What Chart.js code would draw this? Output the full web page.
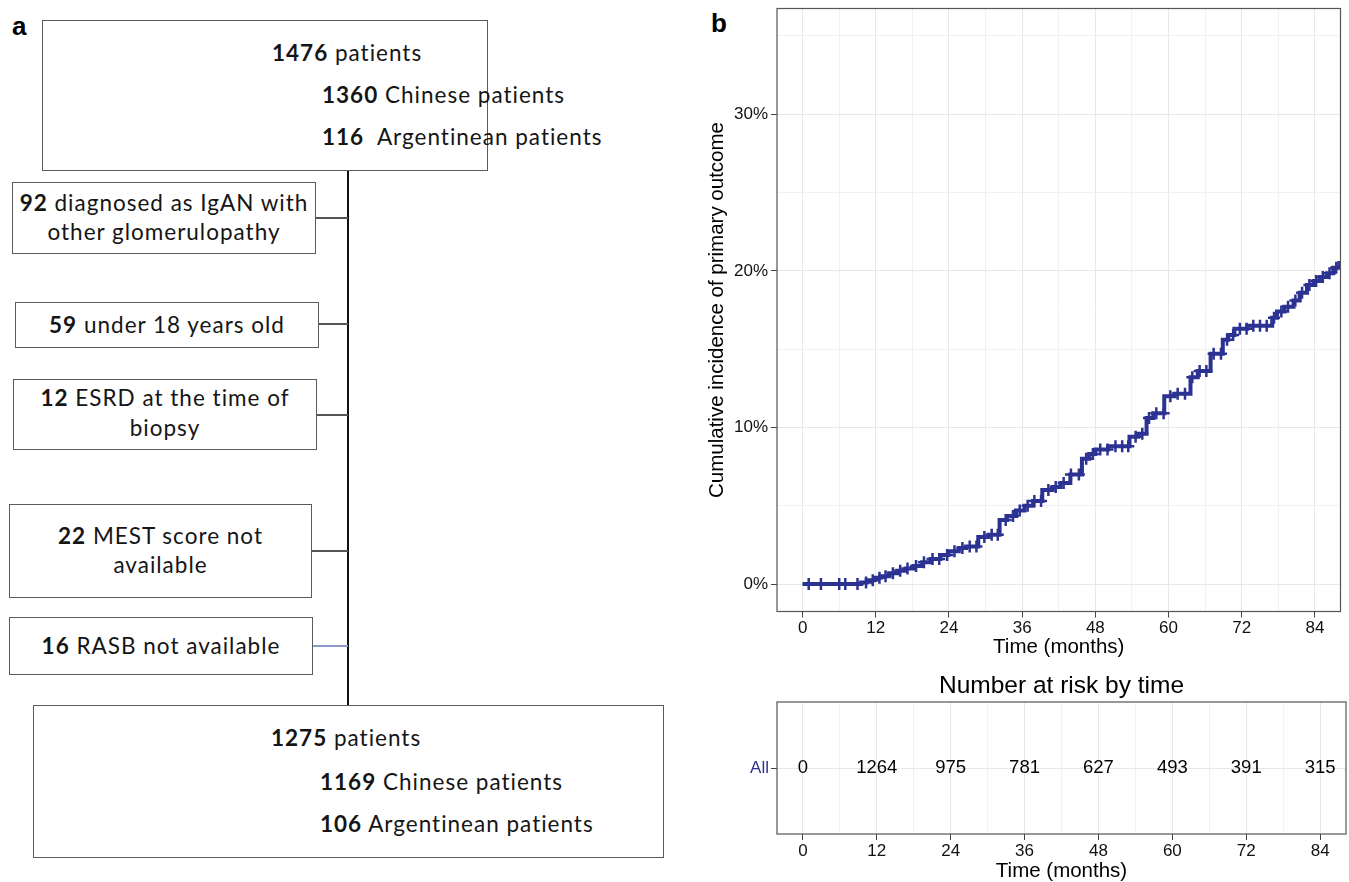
<!DOCTYPE html>
<html>
<head>
<meta charset="utf-8">
<title>Patient selection and cumulative incidence of the primary outcome</title>
<script src="https://cdn.jsdelivr.net/npm/chart.js@4.4.1/dist/chart.umd.min.js"></script>
<style>
  html, body { margin: 0; padding: 0; background: #fff; }
  body { position: relative; width: 1349px; height: 882px; overflow: hidden; }
  .panel-tag { position: absolute; font: bold 26px "Liberation Sans", Arial, sans-serif; color: #000; line-height: 1; }
  .fbox { position: absolute; box-sizing: border-box; border: 1.5px solid #5b5b5b; background: #fff; }
  .fline { position: absolute; }
  .ftext { position: absolute; font-family: Lato, "Open Sans", sans-serif; font-size: 22.5px; letter-spacing: 1px;
           color: #151515; white-space: pre; line-height: 1; transform: translateY(-50%); }
  .ftext b { font-weight: 700; }
  canvas { position: absolute; }
</style>
</head>
<body>
<div id="flow"></div>
<div class="panel-tag" style="left:12px;top:13px">a</div>
<div class="panel-tag" style="left:711px;top:10px">b</div>
<canvas id="km" width="649" height="660" style="left:700px;top:0px;width:649px;height:660px"></canvas>
<canvas id="risk" width="649" height="212" style="left:700px;top:672px;width:649px;height:212px"></canvas>

<script>
// ---------- cohort flow ----------
const screenedTotal = 1476;
const screenedByCountry = [1360, 116];
const countryLabels = ['Chinese patients', 'Argentinean patients'];
const exclusionCounts = [92, 59, 12, 22, 16];
const exclusionReasons = [
  ['diagnosed as IgAN with', 'other glomerulopathy'],
  ['under 18 years old'],
  ['ESRD at the time of', 'biopsy'],
  ['MEST score not', 'available'],
  ['RASB not available']
];
const includedTotal = 1275;
const includedByCountry = [1169, 106];

// ---------- cumulative incidence (%), step function ----------
const kmTimes = [0, 9.6, 10.5, 11.8, 12.8, 14.2, 15.5, 16.9, 18.2, 19.6, 21.0, 22.6, 23.9, 25.6, 26.8,
  28.8, 30.5, 32.3, 33.5, 35.0, 36.4, 37.8, 39.3, 41.0, 42.3, 43.9, 45.8, 47.0, 48.0, 50.1, 53.6,
  55.0, 56.4, 57.5, 59.3, 61.0, 63.6, 64.8, 66.9, 68.9, 69.8, 70.8, 72.9, 77.0, 77.8, 79.0, 80.5,
  81.5, 82.7, 83.8, 84.8, 86.0, 87.0, 88.0, 89.0];
const kmIncidence = [0, 0.1, 0.25, 0.4, 0.5, 0.7, 0.85, 1.0, 1.15, 1.4, 1.6, 1.85, 2.1, 2.3, 2.4,
  3.0, 3.15, 4.1, 4.35, 4.7, 5.0, 5.3, 6.0, 6.2, 6.45, 7.0, 8.0, 8.3, 8.6, 8.8, 9.4,
  9.6, 10.6, 10.9, 12.0, 12.15, 13.2, 13.6, 14.7, 15.6, 15.9, 16.3, 16.5, 17.0, 17.4, 17.7, 18.1,
  18.6, 19.1, 19.35, 19.6, 19.85, 20.2, 20.5, 20.5];
const censorTimes = [1, 3, 6, 7, 9, 10.4, 11.5, 12.6, 13.6, 14.8, 16.0, 17.2, 18.6, 19.9, 21.3, 22.4,
  23.7, 24.9, 26.2, 27.4, 28.5, 29.8, 31.0, 32.0, 33.3, 34.5, 35.6, 36.9, 38.0, 39.1, 40.3, 41.5,
  42.8, 44.0, 45.3, 46.5, 47.6, 48.8, 50.0, 51.3, 52.4, 53.4, 54.6, 55.7, 56.8, 58.0, 59.2, 60.3,
  61.5, 62.7, 63.9, 65.1, 66.2, 67.4, 68.6, 69.6, 70.6, 71.7, 72.8, 73.9, 75.0, 76.1, 77.3, 78.5,
  79.6, 80.8, 81.9, 83.1, 84.2, 85.3, 86.4, 87.5];

const timeTicks = [0, 12, 24, 36, 48, 60, 72, 84];
const incidenceTicks = [0, 10, 20, 30];

// ---------- number at risk ----------
const riskTimes = [0, 12, 24, 36, 48, 60, 72, 84];
const riskCounts = [0, 1264, 975, 781, 627, 493, 391, 315];
const riskGroups = ['All'];

// ======================================================================
const flow = document.getElementById('flow');
function el(cls, css, html) {
  const d = document.createElement('div');
  d.className = cls;
  Object.assign(d.style, css);
  if (html !== undefined) d.innerHTML = html;
  flow.appendChild(d);
  return d;
}
function box(r) {
  el('fbox', { left: r[0] + 'px', top: r[1] + 'px', width: (r[2] - r[0]) + 'px', height: (r[3] - r[1]) + 'px' });
}
function hline(x1, x2, y, color, w) {
  el('fline', { left: x1 + 'px', top: (y - w / 2) + 'px', width: (x2 - x1) + 'px', height: w + 'px', background: color });
}
function vline(x, y1, y2, color, w) {
  el('fline', { left: (x - w / 2) + 'px', top: y1 + 'px', width: w + 'px', height: (y2 - y1) + 'px', background: color });
}
function textAt(html, x, y) { el('ftext', { left: x + 'px', top: y + 'px' }, html); }
function textCentered(html, r, y) {
  el('ftext', { left: r[0] + 'px', width: (r[2] - r[0]) + 'px', top: y + 'px', textAlign: 'center' }, html);
}

// layout of the flow diagram
const spineX = 348;
const topRect = [42, 20, 488, 171];
const bottomRect = [33, 705, 664, 858];
const exclRects = [[12, 182, 316, 254], [15, 302, 319, 348], [13, 379, 317, 450], [9, 504, 312, 598], [9, 617, 313, 675]];
const exclLinkY = [218, 324, 415, 551, 646];
const exclLineY = [[203, 232], [325], [398, 428], [536, 565], [646]];
const linkColors = ['#555', '#555', '#555', '#555', '#8c9acb'];

vline(spineX, topRect[3], bottomRect[1], '#111', 2);
box(topRect);
box(bottomRect);
textAt('<b>' + screenedTotal + '</b> patients', 272, 53);
textAt('<b>' + screenedByCountry[0] + '</b> ' + countryLabels[0], 322, 95);
textAt('<b>' + screenedByCountry[1] + '</b>  ' + countryLabels[1], 322, 137);
textAt('<b>' + includedTotal + '</b> patients', 271, 738);
textAt('<b>' + includedByCountry[0] + '</b> ' + countryLabels[0], 320, 782);
textAt('<b>' + includedByCountry[1] + '</b> ' + countryLabels[1], 320, 824);

exclusionCounts.forEach((n, i) => {
  const r = exclRects[i];
  hline(r[2], spineX, exclLinkY[i], linkColors[i], 1.5);
  box(r);
  exclusionReasons[i].forEach((line, j) => {
    const html = j === 0 ? '<b>' + n + '</b> ' + line : line;
    textCentered(html, r, exclLineY[i][j]);
  });
});

// ======================================================================
const KM_BLUE = '#2b3292';
const SANS = '"Liberation Sans", Arial, sans-serif';
const minorTimes = timeTicks.slice(0, -1).map((t, i) => (t + timeTicks[i + 1]) / 2);
const timeGrid = timeTicks.concat(minorTimes).sort((a, b) => a - b);
const minorInc = incidenceTicks.map(v => v + 5);
const incGrid = incidenceTicks.concat(minorInc).sort((a, b) => a - b);

function incidenceAt(t) {
  let v = 0;
  for (let i = 0; i < kmTimes.length; i++) if (kmTimes[i] <= t) v = kmIncidence[i];
  return v;
}

const panelBorder = {
  id: 'panelBorder',
  afterDraw(chart) {
    const a = chart.chartArea, c = chart.ctx;
    c.save();
    c.strokeStyle = '#555';
    c.lineWidth = 1.2;
    c.strokeRect(a.left, a.top, a.right - a.left, a.bottom - a.top);
    c.restore();
  }
};

function timeAxis(height) {
  return {
    type: 'linear', min: -4.2, max: 88.2,
    afterBuildTicks: ax => { ax.ticks = timeGrid.map(v => ({ value: v })); },
    afterFit: ax => { ax.height = height; ax.paddingLeft = 0; ax.paddingRight = 0; },
    border: { display: false },
    grid: {
      color: ctx => (ctx.tick && timeTicks.includes(ctx.tick.value)) ? '#e8e8e8' : '#f1f1f1',
      lineWidth: 1,
      tickLength: 6,
      tickColor: ctx => (ctx.tick && timeTicks.includes(ctx.tick.value)) ? '#444' : 'rgba(0,0,0,0)'
    },
    ticks: {
      autoSkip: false, maxRotation: 0, padding: 1, color: '#111',
      font: { family: SANS, size: 17 },
      callback: v => timeTicks.includes(v) ? String(v) : ''
    },
    title: { display: true, text: 'Time (months)', color: '#000', font: { family: SANS, size: 20.5 },
             padding: { top: 0, bottom: 0 } }
  };
}

new Chart(document.getElementById('km'), {
  type: 'scatter',
  data: {
    datasets: [
      {
        data: kmTimes.map((t, i) => ({ x: t, y: kmIncidence[i] })),
        showLine: true, stepped: 'before', borderColor: KM_BLUE, borderWidth: 4,
        pointRadius: 0, order: 2
      },
      {
        data: censorTimes.map(t => ({ x: t, y: incidenceAt(t) })),
        showLine: false, pointStyle: 'cross', pointRadius: 6,
        borderColor: KM_BLUE, backgroundColor: KM_BLUE, borderWidth: 2.5, order: 1
      }
    ]
  },
  options: {
    responsive: false, animation: false, events: [],
    layout: { padding: { top: 8.5, right: 3, left: 0, bottom: 0 } },
    plugins: { legend: { display: false }, tooltip: { enabled: false } },
    scales: {
      x: timeAxis(48.5),
      y: {
        type: 'linear', min: -1.75, max: 36.75,
        afterBuildTicks: ax => { ax.ticks = incGrid.map(v => ({ value: v })); },
        afterFit: ax => { ax.width = 77; ax.paddingTop = 0; ax.paddingBottom = 0; },
        border: { display: false },
        grid: {
          color: ctx => (ctx.tick && incidenceTicks.includes(ctx.tick.value)) ? '#e8e8e8' : '#f1f1f1',
          lineWidth: 1, tickLength: 6,
          tickColor: ctx => (ctx.tick && incidenceTicks.includes(ctx.tick.value)) ? '#444' : 'rgba(0,0,0,0)'
        },
        ticks: {
          autoSkip: false, padding: 3, color: '#111', font: { family: SANS, size: 17 },
          callback: v => incidenceTicks.includes(v) ? v + '%' : ''
        },
        title: { display: true, text: 'Cumulative incidence of primary outcome', color: '#000',
                 font: { family: SANS, size: 20.5 }, padding: { top: 5, bottom: 0 } }
      }
    }
  },
  plugins: [panelBorder]
});

// number-at-risk table
const riskText = {
  id: 'riskText',
  afterDatasetsDraw(chart) {
    const c = chart.ctx, a = chart.chartArea;
    const meta = chart.getDatasetMeta(0);
    c.save();
    c.fillStyle = '#000';
    c.font = '18.5px ' + SANS;
    c.textAlign = 'center';
    c.textBaseline = 'middle';
    meta.data.forEach((pt, i) => c.fillText(String(riskCounts[i]), pt.x, pt.y));
    c.font = '24.5px ' + SANS;
    c.fillText('Number at risk by time', (a.left + a.right) / 2, 14);
    c.restore();
  }
};

new Chart(document.getElementById('risk'), {
  type: 'scatter',
  data: {
    datasets: [{
      data: riskTimes.map(t => ({ x: t, y: 1 })),
      pointRadius: 0, showLine: false
    }]
  },
  options: {
    responsive: false, animation: false, events: [],
    layout: { padding: { top: 30, right: 3, left: 0, bottom: 0 } },
    plugins: { legend: { display: false }, tooltip: { enabled: false } },
    scales: {
      x: timeAxis(50),
      y: {
        type: 'linear', min: 0.4, max: 1.6,
        afterBuildTicks: ax => { ax.ticks = riskGroups.map((g, i) => ({ value: i + 1 })); },
        afterFit: ax => { ax.width = 77; ax.paddingTop = 0; ax.paddingBottom = 0; },
        border: { display: false },
        grid: { color: '#e8e8e8', lineWidth: 1, tickLength: 6, tickColor: '#444' },
        ticks: {
          autoSkip: false, padding: 2, color: KM_BLUE, font: { family: SANS, size: 17 },
          callback: (v, i) => riskGroups[i]
        }
      }
    }
  },
  plugins: [panelBorder, riskText]
});
</script>
</body>
</html>
